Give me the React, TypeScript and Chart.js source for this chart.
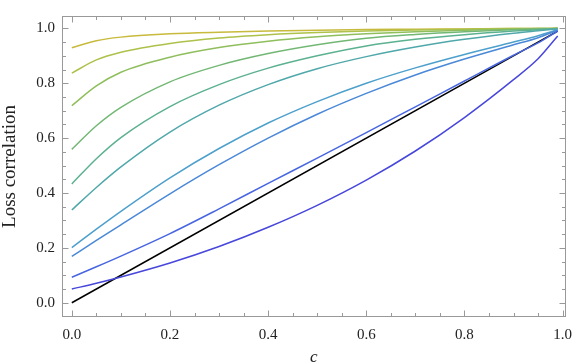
import React, { useEffect, useRef } from 'react';
import { Chart, registerables } from 'chart.js';

Chart.register(...registerables);

// ---- data ----
const cValues = [0, 0.05, 0.1, 0.2, 0.3, 0.4, 0.5, 0.6, 0.7, 0.8, 0.9, 0.95, 0.99];

const curve1 = [0.929, 0.955, 0.968, 0.980, 0.986, 0.990, 0.993, 0.996, 0.997, 0.998, 0.999, 0.999, 1.0];
const curve2 = [0.837, 0.885, 0.913, 0.945, 0.965, 0.977, 0.985, 0.990, 0.994, 0.997, 0.999, 0.999, 1.0];
const curve3 = [0.718, 0.79, 0.84, 0.895, 0.93, 0.953, 0.969, 0.980, 0.988, 0.993, 0.997, 0.999, 1.0];
const curve4 = [0.559, 0.645, 0.712, 0.805, 0.865, 0.908, 0.940, 0.964, 0.978, 0.988, 0.995, 0.998, 0.999];
const curve5 = [0.433, 0.525, 0.602, 0.715, 0.795, 0.855, 0.900, 0.936, 0.960, 0.977, 0.990, 0.995, 0.999];
const curve6 = [0.338, 0.42, 0.495, 0.622, 0.72, 0.795, 0.853, 0.897, 0.932, 0.960, 0.982, 0.991, 0.998];
const curve7 = [0.201, 0.268, 0.333, 0.455, 0.562, 0.655, 0.733, 0.800, 0.856, 0.905, 0.950, 0.973, 0.995];
const curve8 = [0.169, 0.227, 0.284, 0.397, 0.503, 0.600, 0.687, 0.763, 0.830, 0.888, 0.940, 0.966, 0.993];
const curve9 = [0.093, 0.131, 0.170, 0.252, 0.342, 0.435, 0.527, 0.620, 0.714, 0.808, 0.902, 0.947, 0.990];
const curve10 = [0.05, 0.071, 0.094, 0.145, 0.205, 0.275, 0.355, 0.447, 0.553, 0.675, 0.813, 0.889, 0.972];

const diagonalC = [0, 0.99];
const diagonalY = [0, 0.99];

const xTickValues = [0, 0.2, 0.4, 0.6, 0.8, 1.0];
const yTickValues = [0, 0.2, 0.4, 0.6, 0.8, 1.0];

const curves = [curve10, curve9, curve8, curve7, curve6, curve5, curve4, curve3, curve2, curve1];
const curveColors = [
  '#4747dc',
  '#4866e0',
  '#4a88d8',
  '#4ea0cc',
  '#50a8aa',
  '#5cb190',
  '#72b874',
  '#8fbe5c',
  '#aec14a',
  '#c8ba3c',
];

const FRAME = '#999999';
const SERIF = '"Liberation Serif", "Times New Roman", serif';

const framePlugin = {
  id: 'frameTicks',
  afterDatasetsDraw(chart: any) {
    const { ctx, chartArea } = chart;
    const xs = chart.scales.x;
    const ys = chart.scales.y;
    const l = Math.round(chartArea.left) + 0.5;
    const r = Math.round(chartArea.right) - 0.5;
    const t = Math.round(chartArea.top) + 0.5;
    const b = Math.round(chartArea.bottom) - 0.5;
    ctx.save();
    ctx.strokeStyle = FRAME;
    ctx.lineWidth = 1;
    ctx.strokeRect(l, t, r - l, b - t);
    ctx.beginPath();
    for (let i = 0; i <= 20; i++) {
      const v = i * 0.05;
      const major = i % 4 === 0;
      const len = major ? 6 : 3.5;
      const px = Math.round(xs.getPixelForValue(v)) + 0.5;
      ctx.moveTo(px, b);
      ctx.lineTo(px, b - len);
      ctx.moveTo(px, t);
      ctx.lineTo(px, t + len);
      const py = Math.round(ys.getPixelForValue(v)) + 0.5;
      ctx.moveTo(l, py);
      ctx.lineTo(l + len, py);
      ctx.moveTo(r, py);
      ctx.lineTo(r - len, py);
    }
    ctx.stroke();
    ctx.restore();
  },
};

export default function App() {
  const ref = useRef<HTMLCanvasElement | null>(null);

  useEffect(() => {
    document.body.style.margin = '0';
    const canvas = ref.current;
    if (!canvas) return;

    const datasets: any[] = curves.map((arr, i) => ({
      label: 'curve' + (i + 1),
      data: cValues.map((c, j) => ({ x: c, y: arr[j] })),
      borderColor: curveColors[i],
      borderWidth: 1.5,
      pointRadius: 0,
      fill: false,
      cubicInterpolationMode: 'monotone',
    }));
    datasets.push({
      label: 'diagonal',
      data: diagonalC.map((c, j) => ({ x: c, y: diagonalY[j] })),
      borderColor: '#000000',
      borderWidth: 1.5,
      pointRadius: 0,
      fill: false,
    });

    const chart = new Chart(canvas, {
      type: 'line',
      data: { datasets },
      options: {
        animation: false,
        responsive: false,
        maintainAspectRatio: false,
        layout: { padding: { top: 1, right: 6, left: 0, bottom: 0 } },
        plugins: { legend: { display: false }, tooltip: { enabled: false } },
        scales: {
          x: {
            type: 'linear',
            min: -0.02,
            max: 1.006,
            grid: { display: false, drawTicks: false },
            border: { display: false },
            afterBuildTicks: (scale: any) => {
              scale.ticks = xTickValues.map((v) => ({ value: v }));
            },
            afterFit: (scale: any) => {
              scale.height = 45;
            },
            ticks: {
              autoSkip: false,
              maxRotation: 0,
              padding: 9,
              color: '#222',
              font: { family: SERIF, size: 15 },
              callback: (v: any) => Number(v).toFixed(1),
            },
            title: {
              display: true,
              text: 'c',
              color: '#222',
              padding: { top: 0, bottom: -6 },
              font: { family: SERIF, size: 17, style: 'italic' },
            },
          },
          y: {
            type: 'linear',
            min: -0.052,
            max: 1.045,
            grid: { display: false, drawTicks: false },
            border: { display: false },
            afterBuildTicks: (scale: any) => {
              scale.ticks = yTickValues.map((v) => ({ value: v }));
            },
            afterFit: (scale: any) => {
              scale.width = 62;
            },
            ticks: {
              autoSkip: false,
              padding: 7,
              color: '#222',
              font: { family: SERIF, size: 15 },
              callback: (v: any) => Number(v).toFixed(1),
            },
            title: {
              display: true,
              text: 'Loss correlation',
              color: '#222',
              padding: { top: -1, bottom: 0 },
              font: { family: SERIF, size: 19 },
            },
          },
        },
      },
      plugins: [framePlugin],
    });

    return () => chart.destroy();
  }, []);

  return (
    <div style={{ position: 'relative', width: 581, height: 362, background: '#fff' }}>
      <canvas ref={ref} width={581} height={362} style={{ display: 'block' }} />
    </div>
  );
}
